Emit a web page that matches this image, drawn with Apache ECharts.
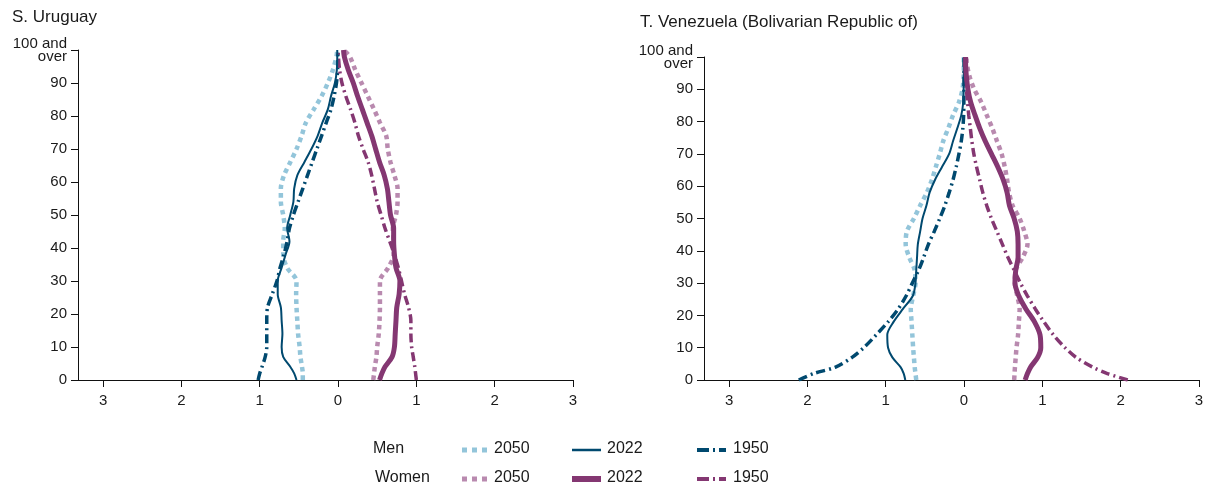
<!DOCTYPE html>
<html>
<head>
<meta charset="utf-8">
<script src="https://cdn.jsdelivr.net/npm/echarts@6/dist/echarts.min.js"></script>
<style>
html,body{margin:0;padding:0;background:#fff;}
#chart{width:1210px;height:492px;}
</style>
</head>
<body>
<div id="chart"></div>
<script>
// ---------- DATA ----------
const panelTitles = ['S. Uruguay', 'T. Venezuela (Bolivarian Republic of)'];
const ages = [0,2,4,7,10,14,18,22,26,30,34,38,42,46,50,54,58,62,66,70,74,78,82,86,90,94,98,100];
const xTickValues = [-3,-2,-1,0,1,2,3];
const yTickValues = [0,10,20,30,40,50,60,70,80,90,100];
const legendRows = ['Men', 'Women'];
const legendYears = ['2050', '2022', '1950'];

// Uruguay (percent of population at each age)
const uyMen2050   = [.45,.45,.46,.48,.49,.51,.52,.53,.535,.53,.65,.70,.70,.68,.70,.73,.73,.69,.61,.53,.465,.41,.31,.21,.13,.065,.02,.01];
const uyMen2022   = [.53,.56,.61,.70,.72,.71,.72,.73,.77,.77,.72,.67,.62,.65,.61,.57,.56,.52,.43,.34,.26,.20,.13,.09,.04,.015,.01,.01];
const uyMen1950   = [1.02,1.00,.97,.93,.91,.91,.91,.90,.84,.78,.74,.69,.65,.62,.57,.51,.45,.39,.33,.27,.21,.15,.09,.05,.02,.005,.002,0];
const uyWomen2050 = [.45,.46,.47,.49,.50,.52,.53,.535,.535,.535,.64,.71,.71,.70,.74,.76,.76,.72,.67,.635,.615,.535,.46,.38,.30,.22,.15,.07];
const uyWomen2022 = [.53,.56,.60,.69,.72,.73,.74,.75,.78,.79,.74,.72,.71,.71,.67,.65,.63,.59,.53,.48,.43,.37,.31,.25,.195,.13,.08,.07];
const uyWomen1950 = [1.00,.99,.98,.96,.94,.93,.93,.90,.85,.81,.77,.72,.66,.60,.55,.50,.465,.43,.385,.32,.26,.215,.16,.10,.05,.02,.005,0];

// Venezuela
const veMen2050   = [.61,.62,.63,.64,.65,.66,.67,.68,.65,.62,.63,.70,.745,.73,.64,.56,.475,.41,.36,.31,.265,.20,.14,.065,.02,.005,.002,.002];
const veMen2022   = [.75,.77,.81,.915,.97,.98,.90,.78,.655,.62,.61,.60,.59,.56,.53,.48,.44,.37,.28,.19,.14,.085,.035,.01,.005,.003,.002,.002];
const veMen1950   = [2.11,1.92,1.64,1.43,1.28,1.12,.97,.84,.74,.66,.58,.515,.455,.38,.31,.245,.19,.14,.10,.065,.035,.015,.005,.002,.001,0,0,0];
const veWomen2050 = [.64,.645,.65,.66,.67,.69,.70,.71,.68,.65,.66,.75,.81,.77,.71,.62,.575,.55,.52,.48,.42,.36,.29,.22,.13,.07,.035,.03];
const veWomen2022 = [.78,.81,.85,.94,.98,.97,.90,.79,.70,.65,.66,.69,.69,.68,.64,.58,.55,.50,.43,.35,.27,.20,.14,.085,.05,.03,.02,.02];
const veWomen1950 = [2.09,1.83,1.64,1.43,1.29,1.14,1.02,.91,.81,.72,.64,.56,.49,.42,.35,.29,.24,.20,.16,.125,.10,.08,.06,.045,.03,.02,.015,.01];

// ---------- STYLES ----------
const C = {
  lightBlue: '#93c5da',
  darkBlue: '#00496f',
  lightPurple: '#b98aaf',
  purple: '#843772'
};
const FONT = "'Liberation Sans', Arial, sans-serif";
const lineStyles = {
  Men: {
    '2050': {color: C.lightBlue, width: 4.5, type: [4.5, 4]},
    '2022': {color: C.darkBlue, width: 2, type: 'solid'},
    '1950': {color: C.darkBlue, width: 3.5, type: [9, 4, 2, 4]}
  },
  Women: {
    '2050': {color: C.lightPurple, width: 4.5, type: [4.5, 4]},
    '2022': {color: C.purple, width: 5, type: 'solid'},
    '1950': {color: C.purple, width: 3.5, type: [9, 4, 2, 4]}
  }
};

const panels = [
  {left: 78, top: 50, width: 495, height: 330,
   data: {Men: {'2050': uyMen2050, '2022': uyMen2022, '1950': uyMen1950},
          Women: {'2050': uyWomen2050, '2022': uyWomen2022, '1950': uyWomen1950}}},
  {left: 704, top: 57, width: 495, height: 323,
   data: {Men: {'2050': veMen2050, '2022': veMen2022, '1950': veMen1950},
          Women: {'2050': veWomen2050, '2022': veWomen2022, '1950': veWomen1950}}}
];

const grids = [], xAxes = [], yAxes = [], series = [], titles = [];
const titlePos = [{left: 12, top: 9}, {left: 640, top: 14}];

panels.forEach((p, pi) => {
  grids.push({left: p.left, top: p.top, width: p.width, height: p.height, containLabel: false});
  titles.push({text: panelTitles[pi], left: titlePos[pi].left, top: titlePos[pi].top, padding: 0,
    textStyle: {fontFamily: FONT, fontSize: 17, fontWeight: 'normal', color: '#1a1a1a'}});
  xAxes.push({
    gridIndex: pi, type: 'value', min: -3.32, max: 3,
    splitLine: {show: false},
    axisLine: {show: true, onZero: false, lineStyle: {color: '#111', width: 1}},
    axisTick: {show: true, length: 7, customValues: xTickValues, lineStyle: {color: '#111'}},
    axisLabel: {customValues: xTickValues, margin: 13, fontFamily: FONT, fontSize: 15, color: '#1a1a1a',
      formatter: v => String(Math.abs(Math.round(v)))}
  });
  yAxes.push({
    gridIndex: pi, type: 'value', min: 0, max: 100,
    splitLine: {show: false},
    axisLine: {show: true, onZero: false, lineStyle: {color: '#111', width: 1}},
    axisTick: {show: true, length: 7, customValues: yTickValues, lineStyle: {color: '#111'}},
    axisLabel: {customValues: yTickValues, margin: 11, fontFamily: FONT, fontSize: 15, color: '#1a1a1a',
      lineHeight: 13, align: 'right',
      formatter: v => v === 100 ? '100 and\nover' : String(v)}
  });
  ['2050', '1950', '2022'].forEach(yr => {
    ['Men', 'Women'].forEach(sex => {
      const vals = p.data[sex][yr];
      const sign = sex === 'Men' ? -1 : 1;
      const st = lineStyles[sex][yr];
      series.push({
        name: sex + ' ' + yr, type: 'line', xAxisIndex: pi, yAxisIndex: pi,
        data: ages.map((a, i) => [sign * vals[i], a]),
        showSymbol: false, symbol: 'none', smooth: 0.3, silent: true,
        z: yr === '2022' ? 3 : 2,
        lineStyle: {color: st.color, width: st.width, type: st.type, cap: 'butt'}
      });
    });
  });
});

// ---------- LEGEND (graphic) ----------
const legendRowY = [450, 479];
const legendRowX = [373, 375];
const iconX = {'2050': [462, 487], '2022': [572, 601], '1950': [697, 726]};
const textX = {'2050': 494, '2022': 607, '1950': 733};
const legendDash = {'2050': [5, 5], '2022': null, '1950': [12, 4, 2, 4]};
const legendWidth = {Men: {'2050': 5, '2022': 2.5, '1950': 4}, Women: {'2050': 5, '2022': 6, '1950': 4}};
const graphic = [];
legendRows.forEach((row, ri) => {
  const y = legendRowY[ri];
  graphic.push({type: 'text', left: legendRowX[ri], top: y - 9,
    style: {text: row, fontFamily: FONT, fontSize: 16, fill: '#1a1a1a'}});
  legendYears.forEach(yr => {
    const st = lineStyles[row][yr];
    graphic.push({type: 'line', shape: {x1: iconX[yr][0], y1: y, x2: iconX[yr][1], y2: y},
      style: {stroke: st.color, lineWidth: legendWidth[row][yr], lineDash: legendDash[yr], lineCap: 'butt'}});
    graphic.push({type: 'text', left: textX[yr], top: y - 9,
      style: {text: yr, fontFamily: FONT, fontSize: 16, fill: '#1a1a1a'}});
  });
});

const chart = echarts.init(document.getElementById('chart'), null, {renderer: 'canvas'});
chart.setOption({
  animation: false,
  backgroundColor: '#fff',
  title: titles,
  grid: grids,
  xAxis: xAxes,
  yAxis: yAxes,
  series: series,
  graphic: graphic
});
</script>
</body>
</html>
